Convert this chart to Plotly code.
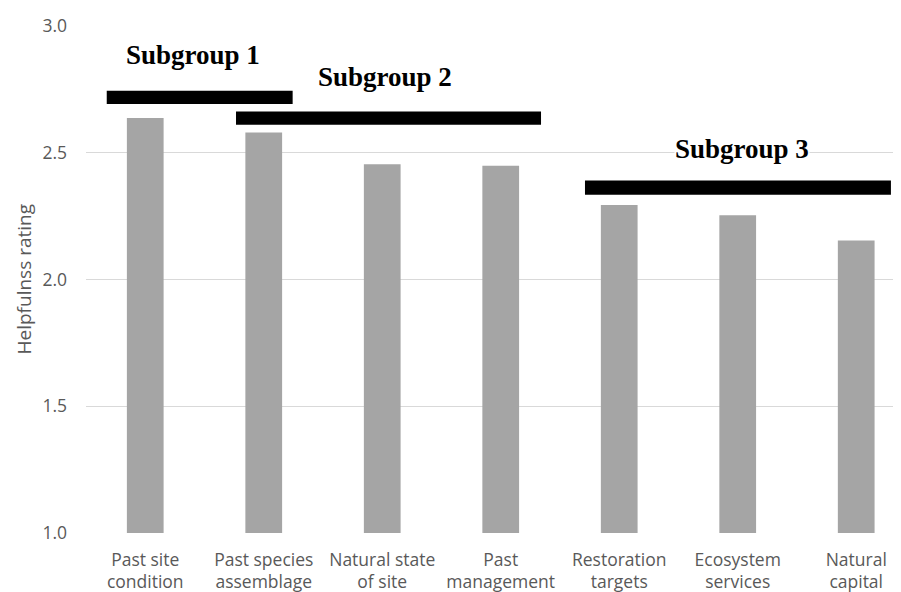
import plotly.graph_objects as go

categories = ["Past site<br>condition", "Past species<br>assemblage", "Natural state<br>of site",
              "Past<br>management", "Restoration<br>targets", "Ecosystem<br>services", "Natural<br>capital"]
ratings = [2.637, 2.580, 2.455, 2.449, 2.294, 2.253, 2.154]

group_labels = ["Subgroup 1", "Subgroup 2", "Subgroup 3"]
group_x0 = [-0.325, 0.766, 3.711]
group_x1 = [1.244, 3.340, 6.293]
group_y0 = [2.692, 2.610, 2.334]
group_y1 = [2.745, 2.663, 2.391]
label_x = [0.403, 2.021, 5.036]
label_y = [2.887, 2.80, 2.515]

y_ticks = [1.0, 1.5, 2.0, 2.5, 3.0]
y_tick_text = ["1.0", "1.5", "2.0", "2.5", "3.0"]

x_idx = list(range(len(categories)))

fig = go.Figure()
fig.add_trace(go.Bar(x=x_idx, y=ratings, marker=dict(color="#a5a5a5", line=dict(width=0)),
                     width=0.31, hoverinfo="y"))

for i, lab in enumerate(group_labels):
    fig.add_shape(type="rect", xref="x", yref="y", x0=group_x0[i], x1=group_x1[i],
                  y0=group_y0[i], y1=group_y1[i], fillcolor="black", line=dict(width=0), layer="above")
    fig.add_annotation(x=label_x[i], y=label_y[i], xref="x", yref="y", text="<b>%s</b>" % lab,
                       showarrow=False, font=dict(family="Liberation Serif", size=27, color="black"),
                       bgcolor="white" if i == 2 else None, borderpad=0)

fig.add_annotation(x=0, y=0.5, xref="paper", yref="paper", text="Helpfulnss rating", textangle=-90,
                   showarrow=False, xanchor="center", yanchor="middle", xshift=-63,
                   font=dict(family="Open Sans", size=19, color="#595959"))

fig.update_layout(
    width=893, height=584,
    margin=dict(l=78, r=0, t=18, b=59, autoexpand=False),
    paper_bgcolor="white", plot_bgcolor="white",
    showlegend=False,
    font=dict(family="Open Sans", color="#595959"),
)
fig.update_xaxes(range=[-0.5, 6.378], tickvals=x_idx, ticktext=categories,
                 tickfont=dict(size=17.5, color="#595959"), showgrid=False, showline=False,
                 zeroline=False, ticks="", automargin=False, ticklabelstandoff=14, fixedrange=True)
fig.update_yaxes(range=[1, 3], tickvals=y_ticks, ticktext=y_tick_text,
                 tickfont=dict(size=17.5, color="#595959"), showgrid=True, gridcolor="#d9d9d9", gridwidth=1,
                 zeroline=False, showline=False, ticks="", automargin=False, ticklabelstandoff=18,
                 fixedrange=True)

fig.write_html("out.html")
